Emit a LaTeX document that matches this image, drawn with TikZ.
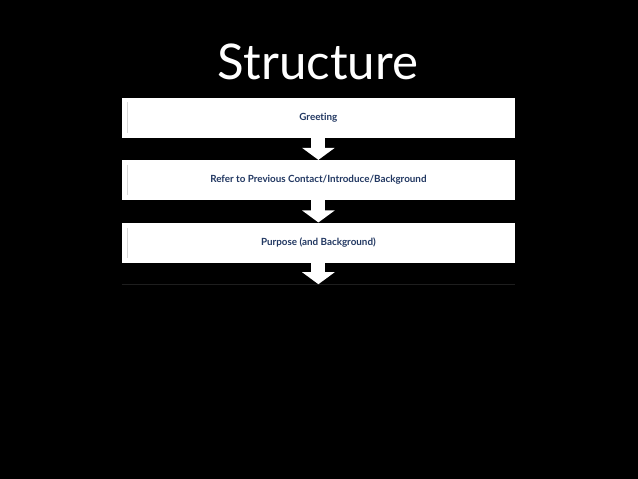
\documentclass[tikz,border=0pt]{standalone}
\usepackage{fontspec}
\setmainfont{Lato}[Ligatures=NoCommon]
\usetikzlibrary{arrows.meta,positioning}
\definecolor{stepnavy}{RGB}{34,56,98}
\definecolor{edgegray}{RGB}{215,215,215}
\definecolor{floorgray}{RGB}{30,30,30}

\begin{document}
\begin{tikzpicture}[
  node distance=0.55cm,
  stepbox/.style={fill=white,minimum width=9.825cm,minimum height=1.0cm,inner sep=0pt,
    font=\fontsize{7}{8}\selectfont\bfseries,text=stepnavy,
    path picture={\draw[edgegray,line width=0.6pt]
      ([xshift=0.15cm,yshift=-0.12cm]path picture bounding box.north west) --
      ([xshift=0.15cm,yshift=0.12cm]path picture bounding box.south west);}},
  flow/.style={white,line width=0.35cm,
    -{Triangle[width=0.8cm,length=0.3cm]},shorten <=-1pt}
]
\useasboundingbox[fill=black] (0,0) rectangle (15.95,-11.975);

\node[text=white,font=\fontsize{35}{40}\selectfont] (title) at (7.95,-1.55) {Structure};

\node[stepbox] (greet) at (7.96,-2.94) {Greeting};
\node[stepbox,below=of greet] (refer) {Refer to Previous Contact/Introduce/Background};
\node[stepbox,below=of refer] (purpose) {Purpose (and Background)};
\coordinate[below=0.53cm of purpose] (floor);

\draw[floorgray,line width=0.5pt] (floor -| purpose.west) -- (floor -| purpose.east);

\draw[flow] (greet) -- (refer);
\draw[flow] (refer) -- (purpose);
\draw[flow] (purpose.south) -- (floor);
\end{tikzpicture}
\end{document}
